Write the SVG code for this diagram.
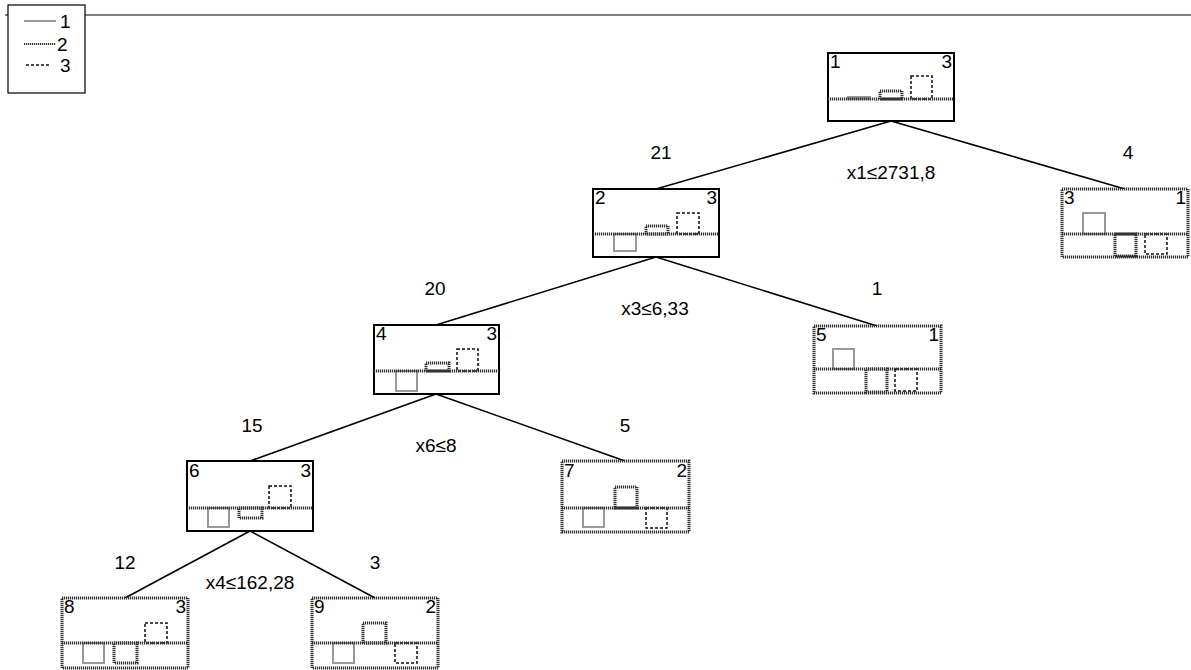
<svg xmlns="http://www.w3.org/2000/svg" width="1191" height="670" viewBox="0 0 1191 670">
<style>
text{font-family:"Liberation Sans",Arial,sans-serif;font-size:19px;fill:#000}
.e{stroke:#000;stroke-width:1.6;fill:none}
.inner{fill:#fff;stroke:#000;stroke-width:2}
.leaf{fill:#fff;stroke:#333;stroke-width:3;stroke-dasharray:1.2 0.8}
.base{stroke:#333;stroke-width:3;stroke-dasharray:1.2 0.8;fill:none}
.c1{fill:none;stroke:#999;stroke-width:2}
.c2{fill:none;stroke:#333;stroke-width:3;stroke-dasharray:1.2 0.8}
.c3{fill:none;stroke:#111;stroke-width:1.5;stroke-dasharray:3 2}
.m{text-anchor:middle}
.r{text-anchor:end}
</style>
<rect width="1191" height="670" fill="#fff"/>
<g id="frame">
<line x1="5" y1="15" x2="1191" y2="15" stroke="#000" stroke-width="1.2"/>
</g>
<g id="legend">
<rect x="8" y="5" width="77" height="88" fill="#fff" stroke="#000" stroke-width="1.2"/>
<line x1="24" y1="21" x2="56" y2="21" class="c1"/>
<text x="60" y="28">1</text>
<line x1="24" y1="44" x2="56" y2="44" class="c2" style="stroke-width:2"/>
<text x="57" y="51">2</text>
<line x1="26" y1="65" x2="49" y2="65" class="c3"/>
<text x="60" y="72">3</text>
</g>
<g id="connectors">
<line x1="891" y1="121" x2="656" y2="189" class="e"/>
<line x1="891" y1="121" x2="1125" y2="189" class="e"/>
<line x1="656" y1="257" x2="436" y2="325" class="e"/>
<line x1="656" y1="257" x2="877" y2="326" class="e"/>
<line x1="436" y1="394" x2="250" y2="461" class="e"/>
<line x1="436" y1="394" x2="625" y2="461" class="e"/>
<line x1="250" y1="531" x2="125" y2="598" class="e"/>
<line x1="250" y1="531" x2="375" y2="598" class="e"/>
<text x="661" y="159" class="m">21</text>
<text x="1128" y="159" class="m">4</text>
<text x="891" y="179" class="m">x1≤2731,8</text>
<text x="435" y="295" class="m">20</text>
<text x="877" y="295" class="m">1</text>
<text x="655" y="315" class="m">x3≤6,33</text>
<text x="252" y="432" class="m">15</text>
<text x="625" y="432" class="m">5</text>
<text x="436" y="452" class="m">x6≤8</text>
<text x="125" y="569" class="m">12</text>
<text x="375" y="569" class="m">3</text>
<text x="250" y="589" class="m">x4≤162,28</text>
</g>
<g id="node1">
<rect x="828" y="53" width="126" height="68" class="inner"/>
<rect x="848" y="97" width="22" height="2" class="c1"/>
<rect x="880" y="91" width="22" height="8" class="c2"/>
<rect x="911" y="76" width="21" height="23" class="c3"/>
<line x1="828" y1="99" x2="954" y2="99" class="base"/>
<text x="830" y="68">1</text>
<text x="952" y="68" class="r">3</text>
</g>
<g id="node2">
<rect x="593" y="189" width="126" height="68" class="inner"/>
<rect x="614" y="234" width="22" height="17" class="c1"/>
<rect x="646" y="226" width="22" height="8" class="c2"/>
<rect x="677" y="213" width="22" height="21" class="c3"/>
<line x1="593" y1="234" x2="719" y2="234" class="base"/>
<text x="595" y="204">2</text>
<text x="717" y="204" class="r">3</text>
</g>
<g id="node3">
<rect x="1062" y="189" width="126" height="68" class="leaf"/>
<rect x="1083" y="213" width="22" height="21" class="c1"/>
<rect x="1115" y="234" width="21" height="22" class="c2"/>
<rect x="1145" y="234" width="22" height="20" class="c3"/>
<line x1="1062" y1="234" x2="1188" y2="234" class="base"/>
<text x="1064" y="204">3</text>
<text x="1186" y="204" class="r">1</text>
</g>
<g id="node4">
<rect x="374" y="325" width="125" height="69" class="inner"/>
<rect x="396" y="371" width="21" height="20" class="c1"/>
<rect x="426" y="363" width="23" height="8" class="c2"/>
<rect x="457" y="349" width="21" height="22" class="c3"/>
<line x1="374" y1="371" x2="499" y2="371" class="base"/>
<text x="376" y="340">4</text>
<text x="497" y="340" class="r">3</text>
</g>
<g id="node5">
<rect x="814" y="326" width="127" height="67" class="leaf"/>
<rect x="833" y="349" width="21" height="20" class="c1"/>
<rect x="866" y="369" width="21" height="23" class="c2"/>
<rect x="895" y="369" width="22" height="22" class="c3"/>
<line x1="814" y1="369" x2="941" y2="369" class="base"/>
<text x="816" y="341">5</text>
<text x="939" y="341" class="r">1</text>
</g>
<g id="node6">
<rect x="187" y="461" width="126" height="70" class="inner"/>
<rect x="208" y="508" width="21" height="19" class="c1"/>
<rect x="239" y="508" width="23" height="10" class="c2"/>
<rect x="269" y="486" width="22" height="22" class="c3"/>
<line x1="187" y1="508" x2="313" y2="508" class="base"/>
<text x="189" y="477">6</text>
<text x="311" y="477" class="r">3</text>
</g>
<g id="node7">
<rect x="562" y="461" width="127" height="71" class="leaf"/>
<rect x="583" y="508" width="21" height="19" class="c1"/>
<rect x="615" y="487" width="22" height="21" class="c2"/>
<rect x="646" y="508" width="21" height="20" class="c3"/>
<line x1="562" y1="508" x2="689" y2="508" class="base"/>
<text x="564" y="477">7</text>
<text x="687" y="477" class="r">2</text>
</g>
<g id="node8">
<rect x="62" y="598" width="126" height="70" class="leaf"/>
<rect x="83" y="643" width="21" height="20" class="c1"/>
<rect x="114" y="643" width="23" height="20" class="c2"/>
<rect x="145" y="623" width="22" height="20" class="c3"/>
<line x1="62" y1="643" x2="188" y2="643" class="base"/>
<text x="64" y="613">8</text>
<text x="186" y="613" class="r">3</text>
</g>
<g id="node9">
<rect x="312" y="598" width="126" height="70" class="leaf"/>
<rect x="333" y="643" width="21" height="20" class="c1"/>
<rect x="363" y="623" width="23" height="20" class="c2"/>
<rect x="395" y="643" width="22" height="20" class="c3"/>
<line x1="312" y1="643" x2="438" y2="643" class="base"/>
<text x="314" y="613">9</text>
<text x="436" y="613" class="r">2</text>
</g>
</svg>
